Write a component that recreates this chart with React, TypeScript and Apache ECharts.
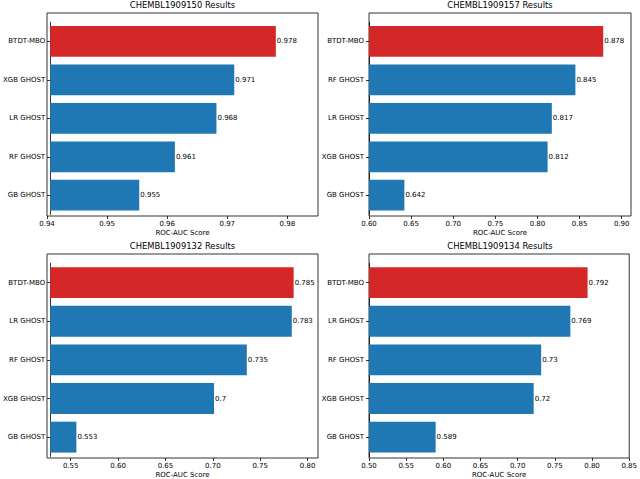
import React, { useEffect, useRef } from "react";
import * as echarts from "echarts";

const titles = [
  "CHEMBL1909150 Results",
  "CHEMBL1909157 Results",
  "CHEMBL1909132 Results",
  "CHEMBL1909134 Results",
];

const categories1 = ["BTDT-MBO", "XGB GHOST", "LR GHOST", "RF GHOST", "GB GHOST"];
const values1 = [0.978, 0.971, 0.968, 0.961, 0.955];
const ticks1 = [0.94, 0.95, 0.96, 0.97, 0.98];

const categories2 = ["BTDT-MBO", "RF GHOST", "LR GHOST", "XGB GHOST", "GB GHOST"];
const values2 = [0.878, 0.845, 0.817, 0.812, 0.642];
const ticks2 = [0.6, 0.65, 0.7, 0.75, 0.8, 0.85, 0.9];

const categories3 = ["BTDT-MBO", "LR GHOST", "RF GHOST", "XGB GHOST", "GB GHOST"];
const values3 = [0.785, 0.783, 0.735, 0.7, 0.553];
const ticks3 = [0.55, 0.6, 0.65, 0.7, 0.75, 0.8];

const categories4 = ["BTDT-MBO", "LR GHOST", "RF GHOST", "XGB GHOST", "GB GHOST"];
const values4 = [0.792, 0.769, 0.73, 0.72, 0.589];
const ticks4 = [0.5, 0.55, 0.6, 0.65, 0.7, 0.75, 0.8, 0.85];

const axisRanges = [
  [0.94, 0.9851, 0.01],
  [0.6, 0.911, 0.05],
  [0.525, 0.811, 0.05],
  [0.5, 0.85, 0.05],
];

const xLabel = "ROC-AUC Score";
const highlight = "BTDT-MBO";

const RED = "#d62728";
const BLUE = "#1f77b4";
const FONT = "DejaVu Sans";

const boxes = [
  { l: 47, t: 13, w: 271, h: 203 },
  { l: 369, t: 13, w: 262, h: 203 },
  { l: 47, t: 254, w: 271, h: 204 },
  { l: 369, t: 254, w: 262, h: 204 },
];

export default function App() {
  const ref = useRef<HTMLDivElement>(null);
  useEffect(() => {
    if (!ref.current) return;
    const chart = echarts.init(ref.current, null, { renderer: "svg" });
    const cats = [categories1, categories2, categories3, categories4];
    const vals = [values1, values2, values3, values4];
    const ticks = [ticks1, ticks2, ticks3, ticks4];
    const grid: any[] = [];
    const xAxis: any[] = [];
    const yAxis: any[] = [];
    const series: any[] = [];
    const graphic: any[] = [];
    boxes.forEach((b, i) => {
      const u = b.h / 5.28;
      const [mn, mx] = axisRanges[i];
      grid.push({
        left: b.l,
        top: b.t,
        width: b.w,
        height: b.h,
        show: true,
        borderColor: "#000",
        borderWidth: 0.8,
        backgroundColor: "transparent",
      });
      grid.push({ left: b.l, top: b.t + 0.24 * u, width: b.w, height: 5 * u });
      xAxis.push({
        gridIndex: 2 * i,
        type: "value",
        min: mn,
        max: mx,
        position: "bottom",
        axisLine: { show: false },
        splitLine: { show: false },
        axisTick: {
          show: true,
          length: 3,
          lineStyle: { color: "#000", width: 0.8 },
          customValues: ticks[i],
        },
        axisLabel: {
          fontSize: 7,
          color: "#000",
          fontFamily: FONT,
          margin: 4,
          customValues: ticks[i],
          formatter: (v: number) => v.toFixed(2),
        },
        name: xLabel,
        nameLocation: "middle",
        nameGap: 13,
        nameTextStyle: { fontSize: 7, color: "#000", fontFamily: FONT },
      });
      yAxis.push({ gridIndex: 2 * i, type: "value", show: false, min: 0, max: 1 });
      xAxis.push({ gridIndex: 2 * i + 1, type: "value", min: mn, max: mx, show: false });
      yAxis.push({
        gridIndex: 2 * i + 1,
        type: "category",
        data: cats[i],
        inverse: true,
        axisLine: { show: true, lineStyle: { color: "#000", width: 0.8 } },
        axisTick: {
          show: true,
          alignWithLabel: true,
          length: 3,
          lineStyle: { color: "#000", width: 0.8 },
        },
        axisLabel: { fontSize: 7, color: "#000", fontFamily: FONT, margin: 5 },
        splitLine: { show: false },
      });
      series.push({
        type: "bar",
        xAxisIndex: 2 * i + 1,
        yAxisIndex: 2 * i + 1,
        barWidth: "80%",
        data: vals[i].map((v, j) => ({
          value: v,
          itemStyle: { color: cats[i][j] === highlight ? RED : BLUE },
        })),
        label: {
          show: true,
          position: "right",
          distance: 1,
          fontSize: 7,
          color: "#000",
          fontFamily: FONT,
          formatter: (p: any) => String(p.value),
        },
      });
      graphic.push({
        type: "text",
        x: b.l + b.w / 2,
        y: b.t - 8,
        style: {
          text: titles[i],
          fontSize: 8.4,
          fontFamily: FONT,
          fill: "#000",
          align: "center",
          verticalAlign: "middle",
        },
      });
    });
    chart.setOption({
      animation: false,
      backgroundColor: "#fff",
      textStyle: { fontFamily: FONT },
      grid,
      xAxis,
      yAxis,
      series,
      graphic,
    });
    return () => chart.dispose();
  }, []);
  return (
    <div
      ref={ref}
      style={{ position: "absolute", left: 0, top: 0, width: 640, height: 479 }}
    />
  );
}
